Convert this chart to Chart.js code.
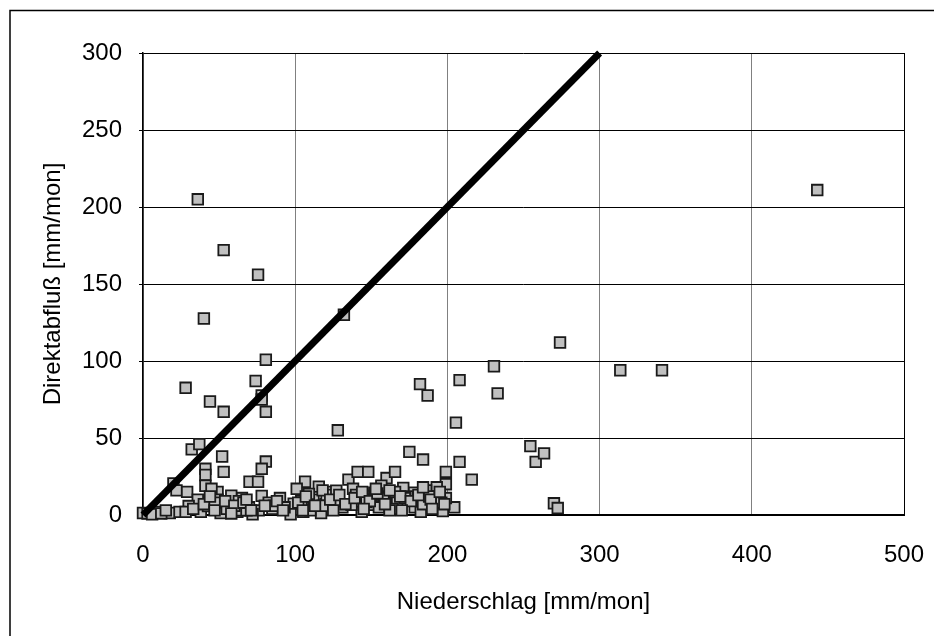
<!DOCTYPE html>
<html>
<head>
<meta charset="utf-8">
<script src="https://cdn.jsdelivr.net/npm/chart.js@4/dist/chart.umd.min.js"></script>
<style>
  body { margin: 0; background: #fff; }
  canvas { display: block; }
</style>
</head>
<body>
<canvas id="abflussChart" width="934" height="636"></canvas>
<script>
// Niederschlag [mm/mon] (x) und Direktabfluß [mm/mon] (y)
const niederschlag = [
  36, 53, 75.6, 40, 132, 80.7, 28, 74, 44, 78, 78, 80.7, 53, 32, 37, 52, 80.7, 78, 41, 41,
  41, 53, 70, 75.6, 20, 22, 29, 49, 128, 182, 187, 184, 175, 208, 205.6, 208, 216, 230.6, 233, 274,
  254.5, 258, 263.5, 270, 272.5, 313.6, 341, 443, 135, 141, 148, 160, 165.6, 199, 199, 204.5, 197, 199,
  193, 186, 178, 171, 164, 152, 145, 115.5, 106.5, 124, 101, 90, 78, 65, 49, 36, 30, 0,
  9, 17.6, 24, 38, 51, 62, 76, 85, 95, 109, 120, 131, 143.7, 151.6, 167, 178.5, 182.5, 184,
  57.5, 69.6, 82.6, 99, 112, 126, 137, 158, 173.5, 63.8, 72, 97, 117, 164, 193.4, 45,
  58, 63, 109, 138, 156.6, 140, 146.8, 165.6, 172, 120.6, 127, 93, 105.3, 28, 42.7,
  110, 104, 150, 188, 196, 86, 68, 55, 47, 155, 162, 118,
  102, 107, 113, 118, 123, 129, 133, 139, 144, 149, 154, 159, 162, 169, 176, 181, 189, 195, 198,
  105, 125, 145, 170, 190, 153, 184,
  33, 40, 47, 54, 60, 66, 71, 80, 88, 92, 58, 44, 68, 3, 6, 12, 15
];
const direktabfluss = [
  205, 172, 156, 127.6, 130, 100.8, 82.6, 87, 73.7, 77.6, 75, 67, 67, 42.6, 46, 38, 34.7, 30, 30, 26,
  19, 28, 21.6, 21.6, 20.5, 16, 15, 15, 55, 85, 77.6, 36, 41, 87.6, 60, 34.5, 23, 96.6, 79, 112,
  44.7, 34.5, 40, 7.6, 4.5, 94, 94, 211, 23, 28, 28, 24, 28, 28, 20, 5, 2.6, 11,
  18, 16, 14.5, 17.6, 13, 14.5, 12.4, 18.4, 21.6, 15, 17, 11, 12.4, 11, 10, 10, 5.8, 1.3,
  2, 1.3, 2, 2, 1.3, 2, 3, 4, 4, 5, 7, 5, 2, 6.6, 8, 5, 2, 7,
  8.4, 5, 8, 7.4, 10, 9, 6.6, 11, 12, 3, 0.5, 0.5, 1.3, 4, 12, 17,
  12.6, 9, 13.7, 17, 19, 13, 8.4, 15, 11, 13, 15.8, 5, 2, 2, 5.8,
  3, 9, 10, 12, 8, 6, 3, 4, 8, 5, 3, 6,
  8, 12, 6, 16, 10, 13, 7, 11, 15, 9, 14, 7, 16, 12, 9, 13, 10, 15, 7,
  3, 3, 4, 3, 4, 17, 18,
  4, 7, 3, 9, 6, 8, 3, 6, 9, 3, 1, 12, 10, 1, 0.5, 1, 3
];
// 1:1-Linie
const linieX = [0, 300];
const linieY = [0, 300];

const xTicks = [0, 100, 200, 300, 400, 500];
const yTicks = [0, 50, 100, 150, 200, 250, 300];

const punkte = niederschlag.map((x, i) => ({ x: x, y: direktabfluss[i] }));
const linie = linieX.map((x, i) => ({ x: x, y: linieY[i] }));

const schrift = "'Liberation Sans', Arial, sans-serif";

// Rahmen um die ganze Grafik
const rahmen = {
  id: 'rahmen',
  afterDraw(chart) {
    const ctx = chart.ctx;
    ctx.save();
    ctx.strokeStyle = '#000';
    ctx.lineWidth = 1.5;
    ctx.beginPath();
    ctx.moveTo(10, 636);
    ctx.lineTo(10, 10.5);
    ctx.lineTo(934, 10.5);
    ctx.stroke();
    ctx.restore();
  }
};

new Chart(document.getElementById('abflussChart').getContext('2d'), {
  type: 'scatter',
  data: {
    datasets: [
      {
        type: 'line',
        data: linie,
        borderColor: '#000',
        borderWidth: 7,
        pointRadius: 0,
        fill: false,
        clip: false,
        order: 0
      },
      {
        data: punkte,
        pointStyle: 'rect',
        pointRadius: 7.5,
        pointBackgroundColor: '#c0c0c0',
        pointBorderColor: '#1a1a1a',
        pointBorderWidth: 1.8,
        clip: false,
        order: 1
      }
    ]
  },
  options: {
    responsive: false,
    animation: false,
    layout: { padding: { left: 10, top: 53, right: 30, bottom: 10 } },
    plugins: {
      legend: { display: false },
      tooltip: { enabled: false }
    },
    scales: {
      x: {
        type: 'linear',
        min: 0,
        max: 500,
        afterBuildTicks: s => { s.ticks = xTicks.map(v => ({ value: v })); },
        afterFit: s => { s.height = 111; s.paddingRight = 0; s.paddingLeft = 0; },
        ticks: { color: '#000', font: { family: schrift, size: 24 }, padding: 26, maxRotation: 0 },
        grid: {
          drawTicks: false,
          color: c => (c.tick && c.tick.value === 500 ? '#000' : '#808080'),
          lineWidth: 1
        },
        border: { color: '#000', width: 2 },
        title: {
          display: true,
          text: 'Niederschlag [mm/mon]',
          color: '#000',
          font: { family: schrift, size: 24 },
          padding: 9
        }
      },
      y: {
        type: 'linear',
        min: 0,
        max: 300,
        afterBuildTicks: s => { s.ticks = yTicks.map(v => ({ value: v })); },
        afterFit: s => { s.width = 133; },
        ticks: { color: '#000', font: { family: schrift, size: 24 }, padding: 17 },
        grid: { color: '#000', lineWidth: 1, tickLength: 4 },
        border: { color: '#000', width: 1.5 },
        title: {
          display: true,
          text: 'Direktabfluß [mm/mon]',
          color: '#000',
          font: { family: schrift, size: 24 },
          padding: 29
        }
      }
    }
  },
  plugins: [rahmen]
});
</script>
</body>
</html>
